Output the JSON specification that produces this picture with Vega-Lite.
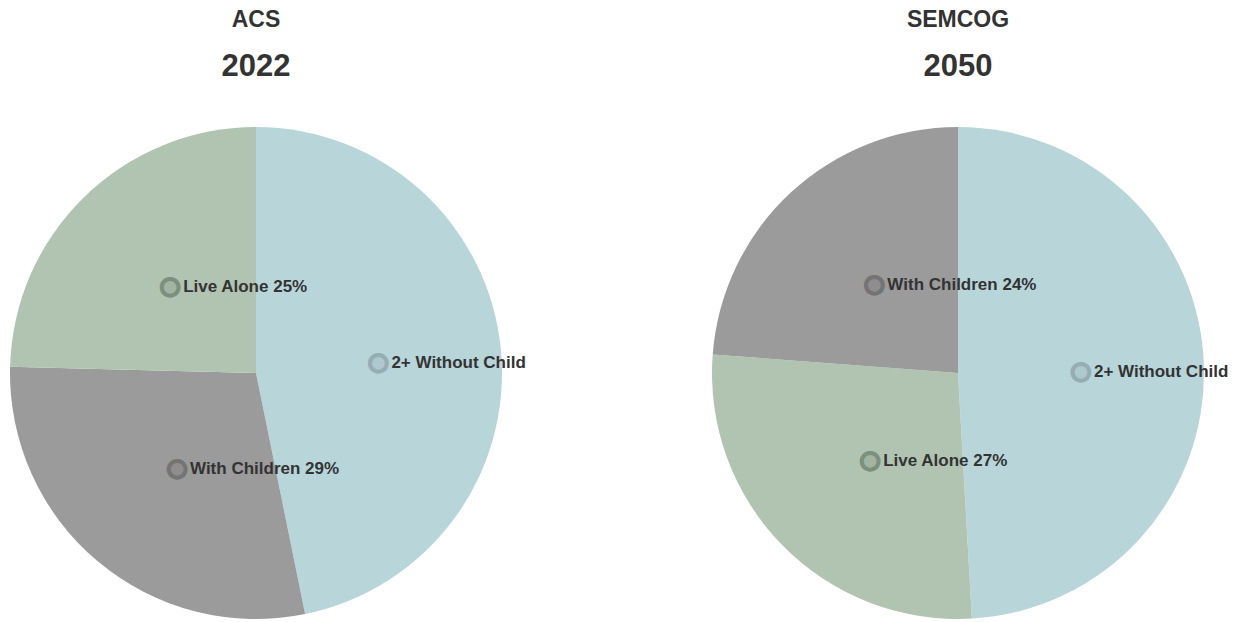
{
  "$schema": "https://vega.github.io/schema/vega-lite/v6.json",
  "padding": {"left": 10, "top": 9, "right": 0, "bottom": 0},
  "background": "white",
  "config": {
    "view": {"stroke": null},
    "font": "Liberation Sans",
    "title": {"font": "Liberation Sans", "fontSize": 23, "fontWeight": "bold", "color": "#333333", "subtitleFont": "Liberation Sans", "subtitleFontSize": 31, "subtitleFontWeight": "bold", "subtitleColor": "#333333", "subtitlePadding": 20, "anchor": "middle", "offset": 45}
  },
  "datasets": {
    "acs": [
      {"category": "2+ Without Child", "value": 46.8, "order": 1, "label": "2+ Without Child"},
      {"category": "With Children", "value": 28.6, "order": 2, "label": "With Children 29%"},
      {"category": "Live Alone", "value": 24.6, "order": 3, "label": "Live Alone 25%"}
    ],
    "semcog": [
      {"category": "2+ Without Child", "value": 49.1, "order": 1, "label": "2+ Without Child"},
      {"category": "Live Alone", "value": 27.1, "order": 2, "label": "Live Alone 27%"},
      {"category": "With Children", "value": 23.8, "order": 3, "label": "With Children 24%"}
    ]
  },
  "spacing": 186,
  "hconcat": [
    {
      "title": {"text": "ACS", "subtitle": "2022"},
      "width": 492,
      "height": 492,
      "data": {"name": "acs"},
      "encoding": {
        "theta": {"field": "value", "type": "quantitative", "stack": true},
        "order": {"field": "order", "type": "quantitative"}
      },
      "layer": [
        {
          "mark": {"type": "arc"},
          "encoding": {
            "color": {"field": "category", "type": "nominal", "legend": null,
              "scale": {"domain": ["2+ Without Child", "Live Alone", "With Children"], "range": ["#b8d5da", "#b1c4b1", "#9b9b9b"]}}
          }
        },
        {
          "mark": {"type": "text", "text": "●", "font": "DejaVu Sans", "fontSize": 22, "radius": 123, "align": "center", "baseline": "middle", "dy": 1, "strokeWidth": 4},
          "encoding": {
            "fill": {"field": "category", "type": "nominal", "legend": null,
              "scale": {"domain": ["2+ Without Child", "Live Alone", "With Children"], "range": ["#aec9ce", "#a3b4a3", "#8e8e8e"]}},
            "stroke": {"field": "category", "type": "nominal", "legend": null,
              "scale": {"domain": ["2+ Without Child", "Live Alone", "With Children"], "range": ["#95aeb3", "#7d8f7d", "#747474"]}}
          }
        },
        {
          "mark": {"type": "text", "radius": 123, "align": "left", "baseline": "middle", "dx": 13, "dy": 2, "fontSize": 17, "fontWeight": "bold", "color": "#333333"},
          "encoding": {"text": {"field": "label", "type": "nominal"}}
        }
      ]
    },
    {
      "title": {"text": "SEMCOG", "subtitle": "2050"},
      "width": 492,
      "height": 492,
      "data": {"name": "semcog"},
      "encoding": {
        "theta": {"field": "value", "type": "quantitative", "stack": true},
        "order": {"field": "order", "type": "quantitative"}
      },
      "layer": [
        {
          "mark": {"type": "arc"},
          "encoding": {
            "color": {"field": "category", "type": "nominal", "legend": null,
              "scale": {"domain": ["2+ Without Child", "Live Alone", "With Children"], "range": ["#b8d5da", "#b1c4b1", "#9b9b9b"]}}
          }
        },
        {
          "mark": {"type": "text", "text": "●", "font": "DejaVu Sans", "fontSize": 22, "radius": 123, "align": "center", "baseline": "middle", "dy": 1, "strokeWidth": 4},
          "encoding": {
            "fill": {"field": "category", "type": "nominal", "legend": null,
              "scale": {"domain": ["2+ Without Child", "Live Alone", "With Children"], "range": ["#aec9ce", "#a3b4a3", "#8e8e8e"]}},
            "stroke": {"field": "category", "type": "nominal", "legend": null,
              "scale": {"domain": ["2+ Without Child", "Live Alone", "With Children"], "range": ["#95aeb3", "#7d8f7d", "#747474"]}}
          }
        },
        {
          "mark": {"type": "text", "radius": 123, "align": "left", "baseline": "middle", "dx": 13, "dy": 2, "fontSize": 17, "fontWeight": "bold", "color": "#333333"},
          "encoding": {"text": {"field": "label", "type": "nominal"}}
        }
      ]
    }
  ]
}
